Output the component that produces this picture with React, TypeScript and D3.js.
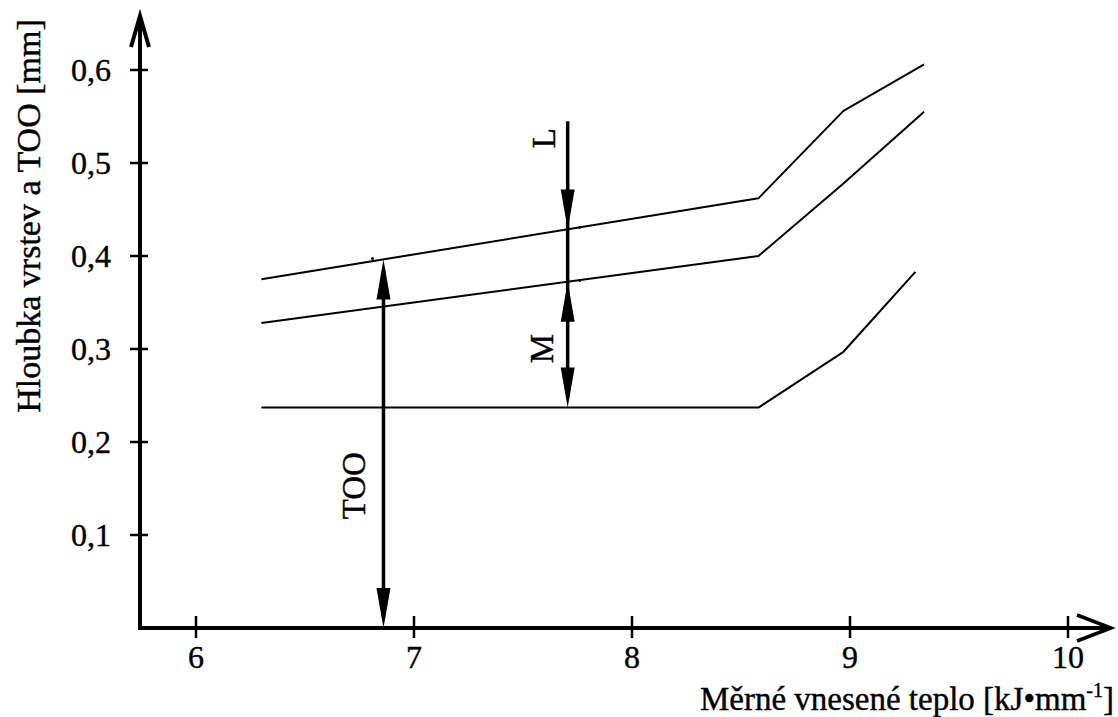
import * as d3 from 'd3';
import React from 'react';

// values
const xTicks = [6, 7, 8, 9, 10];
const yTicks = [0.1, 0.2, 0.3, 0.4, 0.5, 0.6];
const yTickLabels = ['0,1', '0,2', '0,3', '0,4', '0,5', '0,6'];

const heatUpper = [6.3, 8.58, 8.97, 9.34];
const layerL = [0.375, 0.462, 0.556, 0.606];
const layerM = [0.328, 0.4, 0.478, 0.555];
const heatLower = [6.3, 8.58, 8.97, 9.3];
const layerTOO = [0.237, 0.237, 0.297, 0.383];

const tooX = 6.86;
const lmX = 7.705;
const lStart = 0.545;

const width = 1118;
const height = 717;

const x = d3.scaleLinear().domain([6, 10]).range([196, 1068]);
const y = d3.scaleLinear().domain([0, 0.6]).range([628, 70]);

const axisX = 140; // y axis position
const axisY = y(0);

type Pt = { h: number; v: number };
const zip = (hs: number[], vs: number[]): Pt[] => hs.map((h, i) => ({ h, v: vs[i] }));

const line = d3
  .line<Pt>()
  .x((d) => x(d.h))
  .y((d) => y(d.v));

// value of a polyline at given x
const valueAt = (hs: number[], vs: number[], h: number) => {
  const s = d3.scaleLinear().domain(hs).range(vs);
  return s(h);
};

// filled arrow head, tip at (tx, ty), pointing up (dir=-1) or down (dir=1)
const head = (tx: number, ty: number, dir: number) => {
  const len = 40;
  const hw = 7;
  return `M${tx},${ty}L${tx - hw},${ty - dir * len}L${tx + hw},${ty - dir * len}Z`;
};

const App: React.FC = () => {
  const tooTop = valueAt(heatUpper, layerL, tooX);
  const lBottom = valueAt(heatUpper, layerL, lmX);
  const mTop = valueAt(heatUpper, layerM, lmX);
  const mBottom = valueAt(heatLower, layerTOO, lmX);
  const series = [zip(heatUpper, layerL), zip(heatUpper, layerM), zip(heatLower, layerTOO)];

  return (
    <svg width={width} height={height} style={{ position: 'absolute', left: 0, top: 0, background: '#fff' }}>
      <style>{`text { font-family: 'Liberation Serif', 'DejaVu Serif', serif; fill: #000; stroke: #000; stroke-width: 0.4px; }`}</style>
      {/* data lines */}
      {series.map((s, i) => (
        <path key={i} d={line(s) || ''} fill="none" stroke="#000" strokeWidth={2} strokeLinejoin="round" />
      ))}

      {/* TOO arrow */}
      <line x1={x(tooX)} x2={x(tooX)} y1={y(tooTop) + 10} y2={axisY - 10} stroke="#000" strokeWidth={3.5} />
      <path d={head(x(tooX), y(tooTop), -1)} fill="#000" />
      <path d={head(x(tooX), axisY, 1)} fill="#000" />
      <circle cx={x(tooX) - 11} cy={y(tooTop) - 1} r={1.5} fill="#000" />
      <text
        transform={`translate(${x(tooX) - 29},${y(0.153)}) rotate(-90)`}
        textAnchor="middle"
        dominantBaseline="central"
        fontSize={33}
      >
        TOO
      </text>

      {/* L and M arrows */}
      <line x1={x(lmX)} x2={x(lmX)} y1={y(lStart)} y2={y(mBottom) - 10} stroke="#000" strokeWidth={3.5} />
      <path d={head(x(lmX), y(lBottom), 1)} fill="#000" />
      <path d={head(x(lmX), y(mTop), -1)} fill="#000" />
      <path d={head(x(lmX), y(mBottom), 1)} fill="#000" />
      <circle cx={x(lmX) + 12} cy={y(lBottom) - 2} r={1.3} fill="#000" />
      <circle cx={x(lmX) + 12} cy={y(mTop) - 1} r={1.3} fill="#000" />
      <text
        transform={`translate(${x(lmX) - 24},${y(lStart) + 17}) rotate(-90)`}
        textAnchor="middle"
        dominantBaseline="central"
        fontSize={33}
      >
        L
      </text>
      <text
        transform={`translate(${x(lmX) - 26},${(y(mTop) + y(mBottom)) / 2 + 4}) rotate(-90)`}
        textAnchor="middle"
        dominantBaseline="central"
        fontSize={33}
      >
        M
      </text>

      {/* y axis */}
      <line x1={axisX} x2={axisX} y1={axisY + 2} y2={16} stroke="#000" strokeWidth={4} />
      <polyline
        points={`${axisX - 9},47 ${axisX},16 ${axisX + 9},47`}
        fill="none"
        stroke="#000"
        strokeWidth={4}
      />
      {yTicks.map((t, i) => (
        <g key={t}>
          <line x1={axisX - 10} x2={axisX + 8} y1={y(t)} y2={y(t)} stroke="#000" strokeWidth={2.5} />
          <text x={111} y={y(t) + 11} textAnchor="end" fontSize={32}>
            {yTickLabels[i]}
          </text>
        </g>
      ))}
      <text
        transform={`translate(28,216) rotate(-90)`}
        textAnchor="middle"
        dominantBaseline="central"
        fontSize={34}
      >
        Hloubka vrstev a TOO [mm]
      </text>

      {/* x axis */}
      <line x1={axisX - 2} x2={1111} y1={axisY} y2={axisY} stroke="#000" strokeWidth={4} />
      <polyline
        points={`1077,${axisY - 13} 1111,${axisY} 1077,${axisY + 13}`}
        fill="none"
        stroke="#000"
        strokeWidth={3.5}
      />
      {xTicks.map((t) => (
        <g key={t}>
          <line x1={x(t)} x2={x(t)} y1={axisY - 12} y2={axisY + 10} stroke="#000" strokeWidth={2.5} />
          <text x={x(t)} y={668} textAnchor="middle" fontSize={32}>
            {t}
          </text>
        </g>
      ))}
      <text x={1114} y={710} textAnchor="end" fontSize={33}>
        Měrné vnesené teplo [kJ•mm
        <tspan dy={-13} fontSize={20}>
          -1
        </tspan>
        <tspan dy={13}>]</tspan>
      </text>
    </svg>
  );
};

export default App;
